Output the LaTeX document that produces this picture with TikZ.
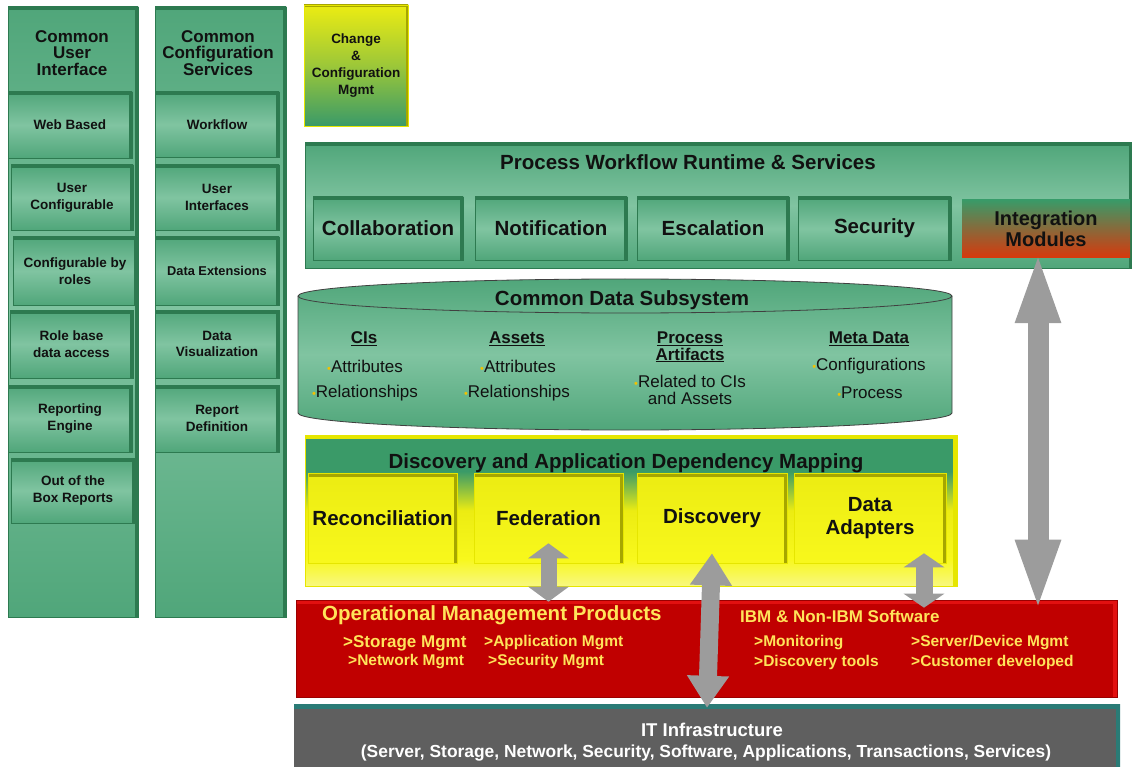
\documentclass[tikz,border=0pt]{standalone}
\usepackage{fontspec}
\setmainfont{Liberation Sans}
\usetikzlibrary{arrows.meta}

\definecolor{gdark}{HTML}{2D7A50}
\definecolor{gmid}{HTML}{50A67A}
\definecolor{glight}{HTML}{80C4A1}
\definecolor{ytop}{HTML}{ECEC12}
\definecolor{ybot}{HTML}{F8F81C}
\definecolor{ylight}{HTML}{F8F880}
\definecolor{yedge}{HTML}{A6A600}
\definecolor{yside}{HTML}{E6E600}
\definecolor{discgreen}{HTML}{3A9A68}
\definecolor{omred}{HTML}{C00000}
\definecolor{omedge}{HTML}{E21010}
\definecolor{omtext}{HTML}{FFE45A}
\definecolor{itgrey}{HTML}{5F5F5F}
\definecolor{itedge}{HTML}{2A7B76}
\definecolor{arrgrey}{HTML}{9C9C9C}
\definecolor{bulc}{HTML}{F2C200}
\definecolor{intred}{HTML}{D8380C}
\definecolor{txt}{HTML}{111111}

\pgfdeclareverticalshading{discshade}{100bp}{color(0bp)=(ylight); color(25bp)=(ylight); color(34bp)=(ybot); color(50bp)=(ytop); color(63bp)=(discgreen); color(100bp)=(discgreen)}

\newcommand{\bul}{{\color{bulc}\fontsize{11}{11}\selectfont\textbullet}}

\begin{document}
\begin{tikzpicture}[x=1pt,y=-1pt,
  wh/.style 2 args={minimum width=#1pt, minimum height=#2pt, inner sep=0pt},
  rim/.style 2 args={path picture={\draw[#1,line width=#2]
    (path picture bounding box.south east) -- (path picture bounding box.north east)
    -- (path picture bounding box.north west);}},
  greenbox/.style={shading=axis, top color=gmid, bottom color=gmid, middle color=glight,
    draw=gdark, line width=0.6pt, rim={gdark}{7pt}},
  subbox/.style={greenbox, text=txt, align=center, font=\fontsize{13.5}{16.7}\selectfont\bfseries},
  hdtext/.style={text=txt, align=center, inner sep=0pt, font=\fontsize{17}{16.5}\selectfont\bfseries},
  bigbox/.style={greenbox, text=txt, font=\fontsize{20.5}{22}\selectfont\bfseries},
  bigtext/.style={text=txt, inner sep=0pt, font=\fontsize{20.5}{22}\selectfont\bfseries},
  ybox/.style={shading=axis, top color=ytop, bottom color=ybot, draw=yside, line width=0.6pt,
    rim={yedge}{7pt}, text=txt, align=center, font=\fontsize{20.5}{23}\selectfont\bfseries},
  cdhead/.style={text=txt, align=center, inner sep=0pt, font=\fontsize{17}{16.5}\selectfont\bfseries},
  cditem/.style={text=txt, align=center, inner sep=0pt, font=\fontsize{17}{16.5}\selectfont},
  omtitle/.style={text=omtext, anchor=west, inner sep=0pt, font=\fontsize{20.5}{22}\selectfont\bfseries},
  omitem/.style={text=omtext, anchor=west, inner sep=0pt, font=\fontsize{15.5}{17}\selectfont\bfseries},
  ittext/.style={text=white, inner sep=0pt, font=\fontsize{17.4}{19}\selectfont\bfseries},
  blockarr/.style={draw=arrgrey, line width=#1},
  bothtips/.style={{Triangle[width=40pt,length=#1]}-{Triangle[width=40pt,length=#1]}}]
\useasboundingbox (0,0) rectangle (1132,767);

% left columns
\node[greenbox, wh={130}{610}] (cui) at (73,312) {};
\node[greenbox, wh={131}{610}] (ccs) at (220.5,312) {};
\node[hdtext] (cuihd) at (72,53) {Common\\User\\Interface};
\node[hdtext] (ccshd) at (218,53) {Common\\Configuration\\Services};
%
\node[subbox, wh={124}{66}] (web) at (70,125) {Web Based};
\node[subbox, wh={122}{65}] (ucfg) at (72,197.5) {User\\Configurable};
\node[subbox, wh={124}{68}] (roles) at (75,271) {Configurable by\\roles};
\node[subbox, wh={123}{68}] (rbda) at (71.5,344) {Role base\\data access};
\node[subbox, wh={124}{67}] (reng) at (70,418.5) {Reporting\\Engine};
\node[subbox, wh={124}{65}] (ootb) at (73,490.5) {Out of the\\Box Reports};
%
\node[subbox, wh={124}{65}] (wflow) at (217,124.5) {Workflow};
\node[subbox, wh={124}{65}] (uif) at (217,197.5) {User\\Interfaces};
\node[subbox, wh={124}{68}] (dext) at (217,271) {\fontsize{12.8}{16.7}\selectfont Data Extensions};
\node[subbox, wh={124}{68}] (dvis) at (217,344) {Data\\Visualization};
\node[subbox, wh={124}{67}] (rdef) at (217,418.5) {Report\\Definition};

% change box
\node[shading=axis, top color=ytop, bottom color=discgreen, middle color=ytop!55!discgreen,
  draw=yside, line width=0.6pt, rim={yedge}{5pt}, wh={104}{121}, text=txt, align=center,
  font=\fontsize{13.5}{17}\selectfont\bfseries] (ccm) at (356,65.5) {Change\\\&\\Configuration\\Mgmt};

% process workflow
\node[greenbox, wh={827}{125}] (pwrs) at (718.5,205.5) {};
\node[bigtext] (pwrst) at (688,162) {Process Workflow Runtime \& Services};
\node[bigbox, wh={150}{63}] (collab) at (388,228.5) {Collaboration};
\node[bigbox, wh={152}{63}] (notif) at (551,228.5) {Notification};
\node[bigbox, wh={152}{63}] (escal) at (713,228.5) {Escalation};
\node[bigbox, wh={153}{63}] (secur) at (874.5,228.5) {Security};
\node[shading=axis, top color=discgreen, bottom color=intred, wh={168}{58}, text=txt,
  align=center, font=\fontsize{20}{21.5}\selectfont\bfseries] (integ) at (1046,229) {Integration\\Modules};

% common data subsystem
\path[shading=axis, top color=gmid, bottom color=gmid, middle color=glight, draw=black!75, line width=0.8pt]
  (298,296) -- (298,413) arc[start angle=180, end angle=360, x radius=327pt, y radius=17pt]
  -- (952,296) arc[start angle=0, end angle=180, x radius=327pt, y radius=17pt] -- cycle;
\draw[black!75, line width=0.8pt] (298,296) arc[start angle=180, end angle=360, x radius=327pt, y radius=17pt];
\node[bigtext] (cdst) at (622,300) {Common Data Subsystem};
\node[cdhead] (cis) at (364,339) {\underline{CIs}};
\node[cditem] (cisa) at (365,366) {\bul Attributes};
\node[cditem] (cisr) at (365,393) {\bul Relationships};
\node[cdhead] (assets) at (517,339) {\underline{Assets}};
\node[cditem] (asa) at (518,366) {\bul Attributes};
\node[cditem] (asr) at (517,393) {\bul Relationships};
\node[cdhead] (part) at (690,347) {\underline{Process}\\\underline{Artifacts}};
\node[cditem] (parr) at (690,390) {\bul Related to CIs\\and Assets};
\node[cdhead] (meta) at (869,339) {\underline{Meta Data}};
\node[cditem] (metac) at (869,366) {\bul Configurations};
\node[cditem] (metap) at (870,393) {\bul Process};

% discovery
\node[shading=discshade, draw=yside, line width=0.6pt, rim={yside}{8pt}, wh={652}{151}] (dadm) at (631,510.5) {};
\node[bigtext] (dadmt) at (626,463) {Discovery and Application Dependency Mapping};
\node[ybox, wh={149}{90}] (recon) at (382.5,518) {Reconciliation};
\node[ybox, wh={149}{90}] (fed) at (548.5,518) {Federation};
\node[ybox, wh={150}{90}] (disc) at (712,518) {Discovery};
\node[ybox, wh={152}{90}] (adapt) at (870,518) {Data\\Adapters};

% operational management products
\node[fill=omred, draw=omred!80!black, line width=0.6pt, rim={omedge}{8pt}, wh={821}{97}] (omp) at (706.5,648.5) {};
\node[omtitle] (ompt) at (322,615) {Operational Management Products};
\node[omitem, font=\fontsize{17}{17}\selectfont\bfseries] (sto) at (343,643) {>Storage Mgmt};
\node[omitem] (app) at (484,643) {>Application Mgmt};
\node[omitem] (net) at (348,662) {>Network Mgmt};
\node[omitem] (sec) at (488,662) {>Security Mgmt};
\node[omitem, font=\fontsize{17}{17}\selectfont\bfseries] (ibm) at (740,616) {IBM \& Non-IBM Software};
\node[omitem] (mon) at (754,643) {>Monitoring};
\node[omitem] (dtl) at (754,662) {>Discovery tools};
\node[omitem] (srv) at (911,643) {>Server/Device Mgmt};
\node[omitem] (cust) at (911,662) {>Customer developed};

% it infrastructure
\node[fill=itgrey, rim={itedge}{9pt}, wh={826}{66}] (itinfra) at (707,737) {};
\node[ittext, font=\fontsize{18.5}{19}\selectfont\bfseries] (itt) at (712,730) {IT Infrastructure};
\node[ittext] (its) at (706,753) {(Server, Storage, Network, Security, Software, Applications, Transactions, Services)};

% grey two-way arrows
\coordinate (fedtop) at ([yshift=20pt]fed.south);
\coordinate (disctop) at ([yshift=10pt]disc.south);
\coordinate (adtop) at ([xshift=54pt,yshift=10pt]adapt.south);
\coordinate (intop) at ([xshift=-8pt,yshift=8pt]integ.south);
\draw[blockarr=16pt, bothtips=15pt] (fedtop) -- ([yshift=-2pt]fedtop |- omp.north);
\draw[blockarr=18pt, bothtips=32pt] (disctop) -- ([yshift=-4pt]itinfra.north);
\draw[blockarr=17pt, bothtips=14pt] (adtop) -- ([yshift=-8pt]adtop |- omp.north);
\draw[blockarr=21pt, bothtips=73pt] (intop) -- ([yshift=-13pt]intop |- omp.north);
\end{tikzpicture}
\end{document}
